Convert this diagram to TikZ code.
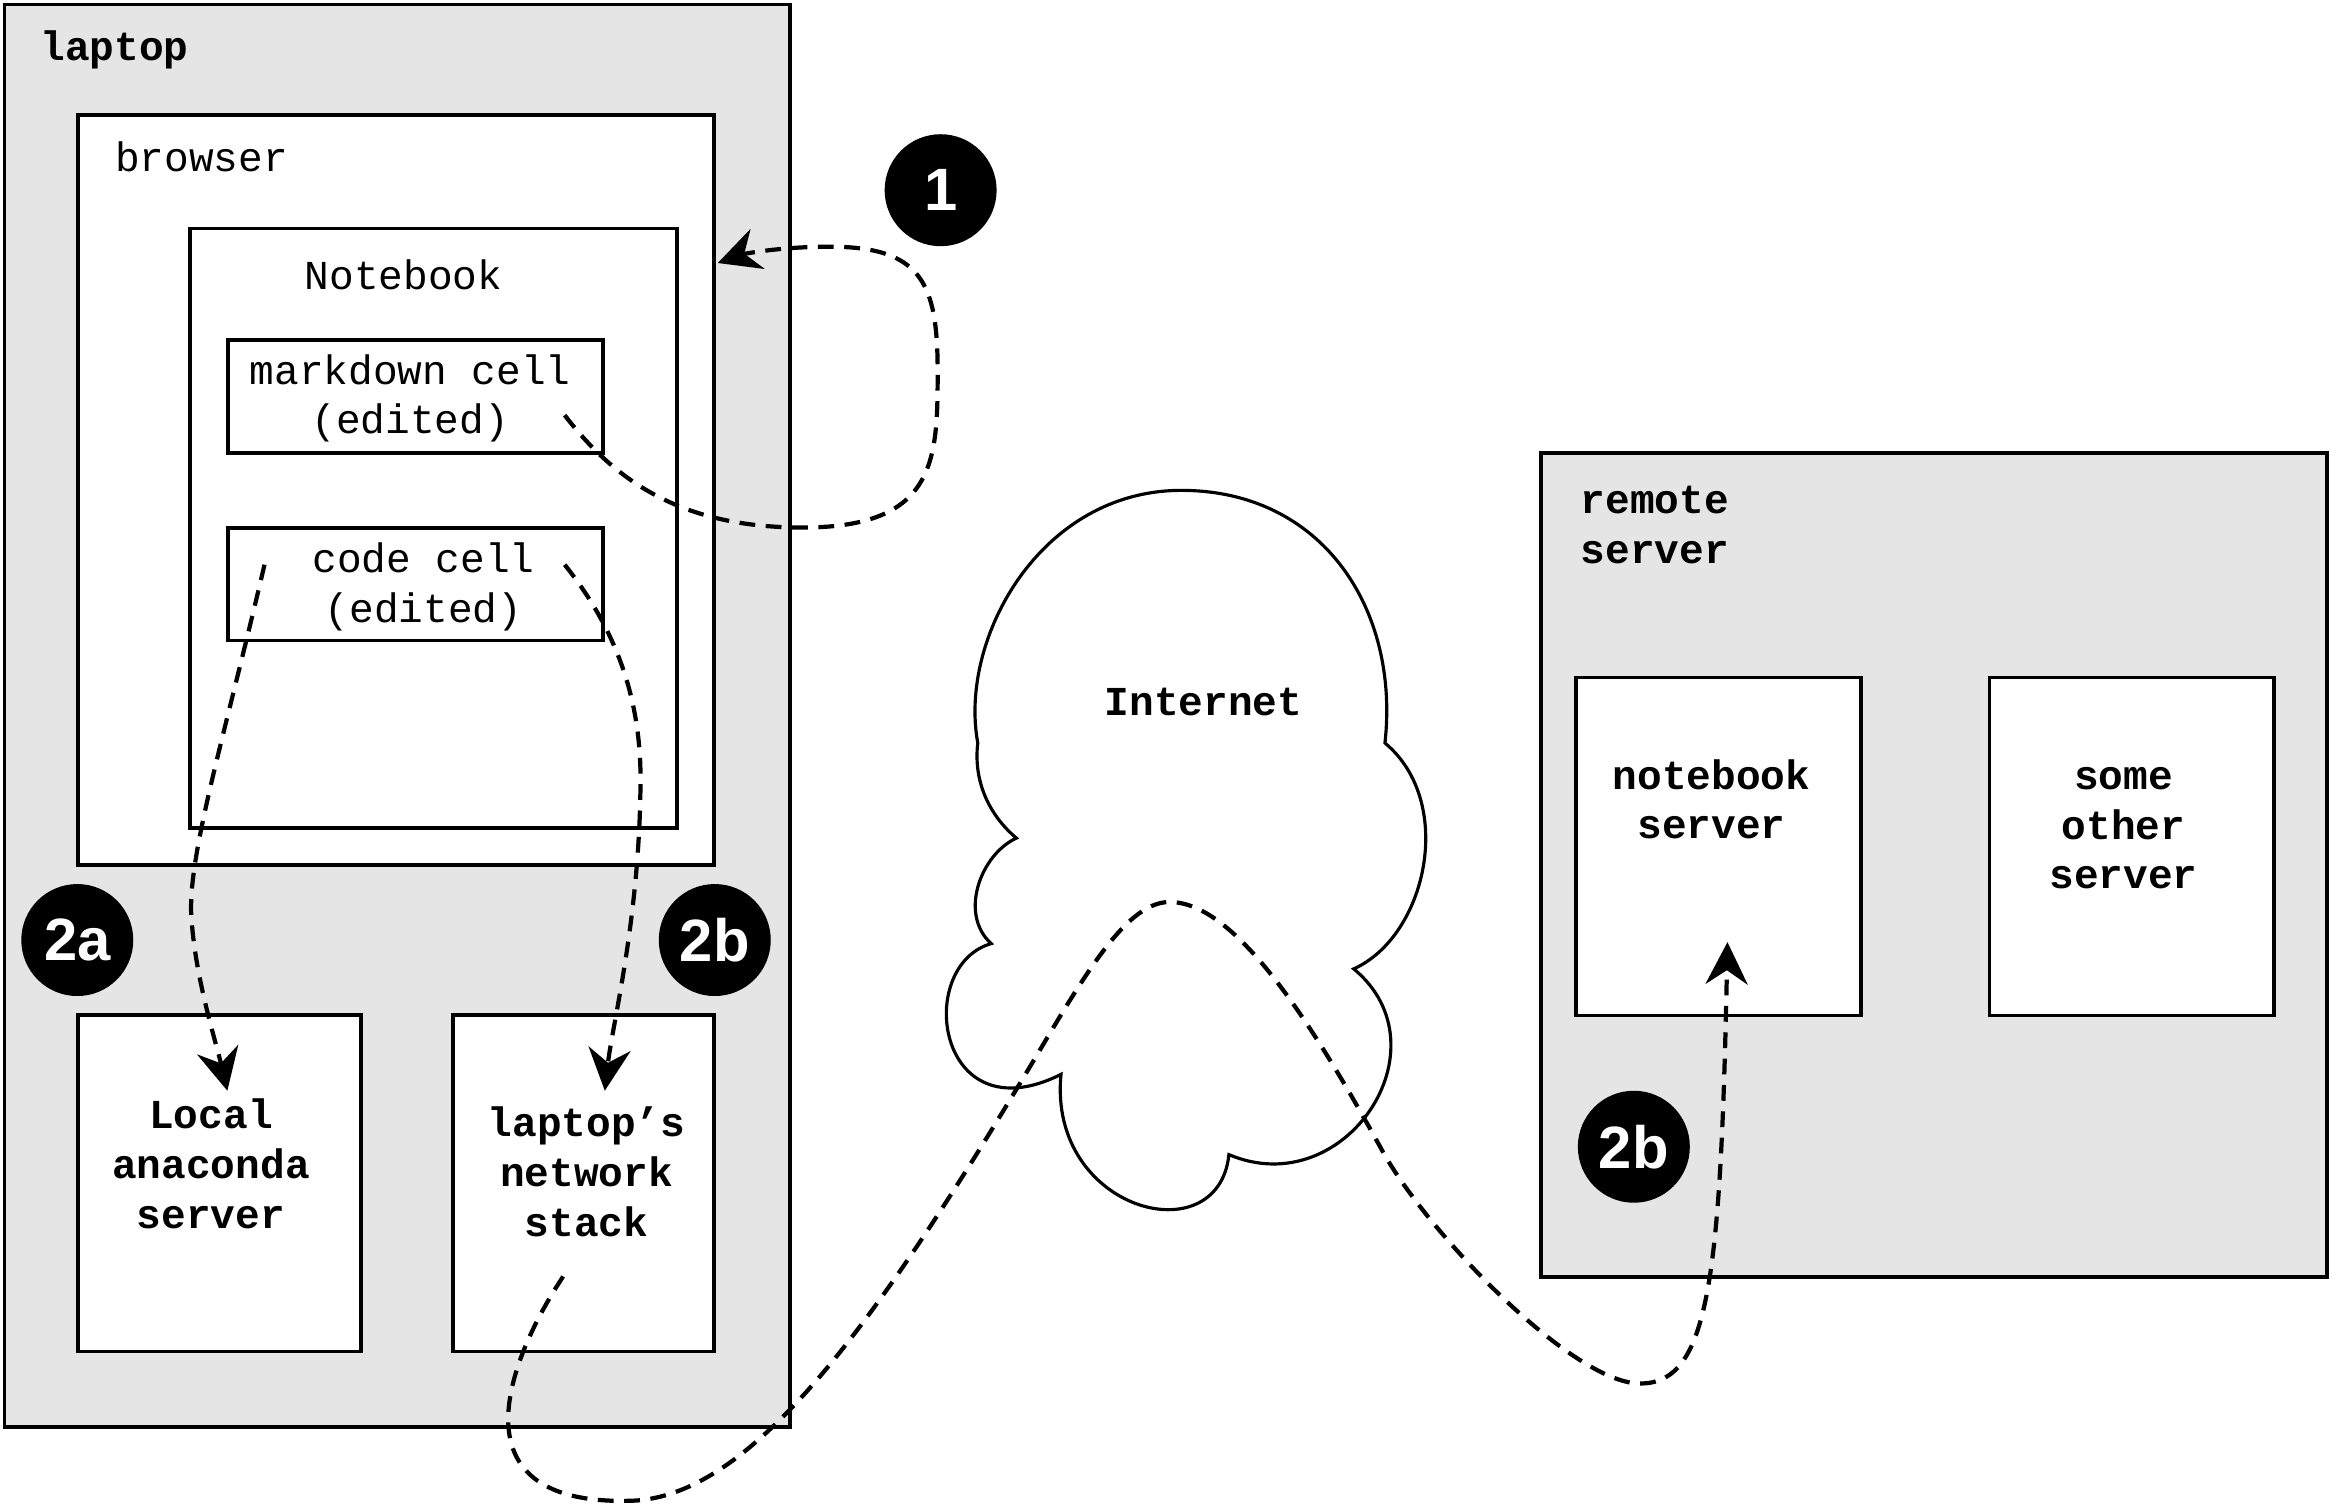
\documentclass[tikz,border=0pt]{standalone}
\usepackage{fontspec}
\setmonofont{Liberation Mono}
\setsansfont{Liberation Sans}
\usetikzlibrary{positioning, calc, fit, arrows.meta}
\tikzset{machine/.style={draw, line width=1.1pt, fill=black!10, inner sep=0pt}}
\tikzset{pane/.style={draw, line width=1.1pt, fill=white, inner sep=0pt}}
\tikzset{plain/.style={inner sep=0pt, align=center, font=\ttfamily\fontsize{11.7}{14.2}\selectfont}}
\tikzset{heavy/.style={plain, font=\ttfamily\bfseries\fontsize{11.7}{14.2}\selectfont}}
\tikzset{badge/.style={circle, fill=black, text=white, minimum size=1.12cm, inner sep=0pt, font=\sffamily\bfseries\fontsize{17}{17}\selectfont}}
\tikzset{flow/.style={line width=1.2pt, dash pattern=on 4.5pt off 3pt, -{Stealth[length=12pt, width=12pt, inset=4pt]}}}

\begin{document}
\begin{tikzpicture}[x=0.01486cm, y=-0.01486cm]
  \useasboundingbox (0,0) rectangle (1568,1014);

  \node[machine, fit={(3,3) (531.5,960.5)}] (laptop) {};
  \node[heavy, anchor=base west] (laptoptxt) at ($(laptop.north west)+(25,39)$) {laptop};
  \node[pane, fit={(52.4,77.5) (480.7,582)}] (browser) {};
  \node[plain, anchor=base west] (browsertxt) at ($(browser.north west)+(26,39.5)$) {browser};
  \node[pane, fit={(128,153.8) (455.6,557)}] (notebook) {};
  \node[plain, anchor=base] (notebooktxt) at (271.5,195) {Notebook};
  \node[pane, fit={(153.2,229) (405.6,305)}] (mdcell) {};
  \node[plain, anchor=base] (mdtxt) at (276,292) {markdown cell\\(edited)};
  \node[pane, fit={(153.2,355.4) (405.6,431)}] (codecell) {};
  \node[plain, anchor=base] (codetxt) at (285,418.6) {code cell\\(edited)};
  \node[pane, fit={(52.2,683) (243,909.5)}] (anaconda) {};
  \node[heavy, anchor=base] (anacondatxt) at (142,826.5) {Local\\anaconda\\server};
  \node[pane, fit={(304.6,683) (480.6,909.5)}] (netstack) {};
  \node[heavy, anchor=base] (netstacktxt) at (394.7,832.2) {laptop’s\\network\\stack};

  \node[badge] (one) at (633,128) {1};
  \node[badge] (twoa) at (52,632.6) {2a};
  \node[badge] (twob) at (481,632.6) {2b};

  \node[machine, fit={(1037,305) (1566,859.5)}] (remote) {};
  \node[heavy, anchor=base west, align=left] (remotetxt) at (1063.4,379) {remote\\server};
  \node[pane, fit={(1060.8,455.9) (1252.6,683.4)}] (nbserver) {};
  \node[heavy, anchor=base] (nbservertxt) at (1151.7,564.6) {notebook\\server};
  \node[pane, fit={(1338.8,455.9) (1530.3,683.4)}] (otherserver) {};
  \node[heavy, anchor=base] (otherservertxt) at (1429,598.2) {some\\other\\server};
  \node[badge] (twobremote) at (1099.5,771.7) {2b};

  \draw[line width=0.9pt, fill=white] (932,500) .. controls (942,410) and (890,330) .. (795,330)
    .. controls (700,330) and (645,430) .. (658,500)
    .. controls (655,525) and (665,548) .. (684,564)
    .. controls (660,575) and (645,615) .. (667,635)
    .. controls (615,650) and (630,765) .. (714,723)
    .. controls (705,815) and (820,845) .. (827,777)
    .. controls (905,810) and (975,705) .. (911,652)
    .. controls (960,630) and (980,540) .. cycle;
  \node[heavy, anchor=base] (internet) at (810,481.4) {Internet};

  \coordinate (mdout) at (380,279.4);
  \coordinate (browserin) at (483,177);
  \coordinate (codeleft) at (178,380);
  \coordinate (coderight) at (380,380);
  \coordinate (anacondain) at (153,734);
  \coordinate (netstackin) at (407,734);
  \coordinate (netstackout) at (379,859);
  \coordinate (nbserverin) at (1162.5,634);

  \draw[flow] (mdout) .. controls (415,325) and (460,355) .. (540,355) .. controls (630,355) and (631,310) .. (631,250)
    .. controls (631,190) and (620,166) .. (558,166) .. controls (525,166) and (500,171) .. (browserin);
  \draw[flow] (codeleft) .. controls (150,500) and (125,580) .. (129,620) .. controls (132,660) and (145,700) .. (anacondain);
  \draw[flow] (coderight) .. controls (420,430) and (432,480) .. (431,530) .. controls (430,620) and (412,690) .. (netstackin);
  \draw[flow] (netstackout) .. controls (345,910) and (300,1012) .. (422,1010) .. controls (500,1010) and (580,905) .. (684,733)
    .. controls (724,667) and (755,607) .. (787,607) .. controls (830,607) and (880,683) .. (930,774)
    .. controls (960,829) and (1060,933) .. (1105,931) .. controls (1150,930) and (1158,860) .. (nbserverin);
\end{tikzpicture}
\end{document}
